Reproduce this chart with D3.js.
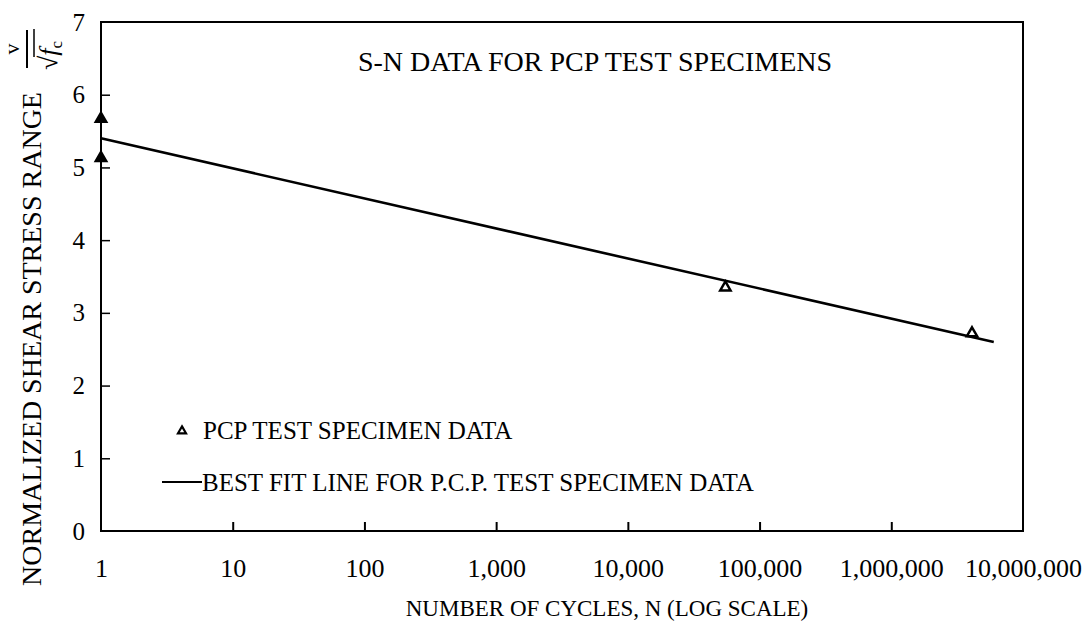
<!DOCTYPE html>
<html>
<head>
<meta charset="utf-8">
<script src="https://cdn.jsdelivr.net/npm/d3@7"></script>
<style>
  html, body { margin: 0; padding: 0; background: #fff; }
  svg { display: block; }
</style>
</head>
<body>
<svg id="chart" width="1084" height="623"></svg>
<script>
// S-N fatigue data for PCP test specimens
const specimenCycles = [1, 1, 55000, 4100000];
const specimenStress = [5.67, 5.13, 3.35, 2.72];

// Best-fit line end points (cycles, normalized stress)
const fitCycles = [1, 6000000];
const fitStress = [5.40, 2.60];

const xTickValues = [1, 10, 100, 1000, 10000, 100000, 1000000, 10000000];
const xTickLabels = ["1", "10", "100", "1,000", "10,000", "100,000", "1,000,000", "10,000,000"];
const yTickValues = [0, 1, 2, 3, 4, 5, 6, 7];

const FONT = "'Liberation Serif', Tinos, 'DejaVu Serif', serif";

const svg = d3.select("#chart").attr("font-family", FONT);

const x = d3.scaleLog().domain([1, 1e7]).range([101, 1023]);
const y = d3.scaleLinear().domain([0, 7]).range([531, 22]);

// Plot frame
svg.append("rect")
  .attr("x", x(1)).attr("y", y(7))
  .attr("width", x(1e7) - x(1)).attr("height", y(0) - y(7))
  .attr("fill", "none").attr("stroke", "#000").attr("stroke-width", 2);

// Bottom axis: ticks point up into the plot
const xAxis = d3.axisBottom(x)
  .tickValues(xTickValues)
  .tickSizeInner(-9).tickSizeOuter(0)
  .tickPadding(28)
  .tickFormat((d, i) => xTickLabels[i]);
const gx = svg.append("g").attr("transform", `translate(0,${y(0)})`).call(xAxis);
gx.attr("font-family", FONT).attr("font-size", 26);
gx.select(".domain").remove();
gx.selectAll(".tick line").attr("stroke", "#000").attr("stroke-width", 2)
  .filter(d => d === 1 || d === 1e7).remove();
gx.selectAll(".tick text").attr("fill", "#000");

// Left axis: ticks point right into the plot
const yAxis = d3.axisLeft(y)
  .tickValues(yTickValues)
  .tickSizeInner(-9).tickSizeOuter(0)
  .tickPadding(16)
  .tickFormat(d3.format("d"));
const gy = svg.append("g").attr("transform", `translate(${x(1)},0)`).call(yAxis);
gy.attr("font-family", FONT).attr("font-size", 25);
gy.select(".domain").remove();
gy.selectAll(".tick line").attr("stroke", "#000").attr("stroke-width", 1.5)
  .filter(d => d === 0 || d === 7).remove();
gy.selectAll(".tick text").attr("fill", "#000");

// Best-fit line
const fitData = fitCycles.map((c, i) => ({ c, s: fitStress[i] }));
svg.append("path")
  .datum(fitData)
  .attr("fill", "none").attr("stroke", "#000").attr("stroke-width", 2.6)
  .attr("d", d3.line().x(d => x(d.c)).y(d => y(d.s)));

// Specimen markers
const tri = d3.symbol().type(d3.symbolTriangle).size(46);
const pts = specimenCycles.map((c, i) => ({ c, s: specimenStress[i] }));
svg.append("g").selectAll("path")
  .data(pts)
  .join("path")
  .attr("d", tri)
  .attr("transform", d => `translate(${x(d.c)},${y(d.s)})`)
  .attr("fill", d => d.c === 1 ? "#000" : "#fff")
  .attr("stroke", "#000").attr("stroke-width", 2.5);

// Title
svg.append("text")
  .attr("x", 595).attr("y", 71)
  .attr("text-anchor", "middle")
  .attr("font-size", 28)
  .text("S-N DATA FOR PCP TEST SPECIMENS");

// Legend
svg.append("path")
  .attr("d", d3.symbol().type(d3.symbolTriangle).size(28))
  .attr("transform", "translate(182,431)")
  .attr("fill", "#fff").attr("stroke", "#000").attr("stroke-width", 2.2);
svg.append("text")
  .attr("x", 203).attr("y", 439).attr("font-size", 25)
  .text("PCP TEST SPECIMEN DATA");
svg.append("line")
  .attr("x1", 162).attr("x2", 202).attr("y1", 482).attr("y2", 482)
  .attr("stroke", "#000").attr("stroke-width", 1.8);
svg.append("text")
  .attr("x", 202).attr("y", 491).attr("font-size", 25)
  .text("BEST FIT LINE FOR P.C.P. TEST SPECIMEN DATA");

// Axis titles
svg.append("text")
  .attr("x", 607).attr("y", 616)
  .attr("text-anchor", "middle").attr("font-size", 23)
  .text("NUMBER OF CYCLES, N (LOG SCALE)");
svg.append("text")
  .attr("transform", "translate(41,339) rotate(-90)")
  .attr("text-anchor", "middle").attr("font-size", 28)
  .text("NORMALIZED SHEAR STRESS RANGE");

// Normalizing quantity v / sqrt(f'c), written along the left edge
const frac = svg.append("g").attr("transform", "translate(27,49) rotate(-90)");
frac.append("text")
  .attr("x", 0).attr("y", -8)
  .attr("text-anchor", "middle").attr("font-size", 22)
  .text("v");
frac.append("line")
  .attr("x1", -19).attr("x2", 19).attr("y1", 0).attr("y2", 0)
  .attr("stroke", "#000").attr("stroke-width", 2);
const den = frac.append("text")
  .attr("x", -21).attr("y", 30).attr("font-size", 26);
den.append("tspan").text("√");
den.append("tspan").attr("font-style", "italic").text("f");
den.append("tspan").attr("font-size", 17).attr("dy", 5).text("c");
frac.append("line")
  .attr("x1", -8).attr("x2", 20).attr("y1", 7).attr("y2", 7)
  .attr("stroke", "#000").attr("stroke-width", 1.5);
</script>
</body>
</html>
